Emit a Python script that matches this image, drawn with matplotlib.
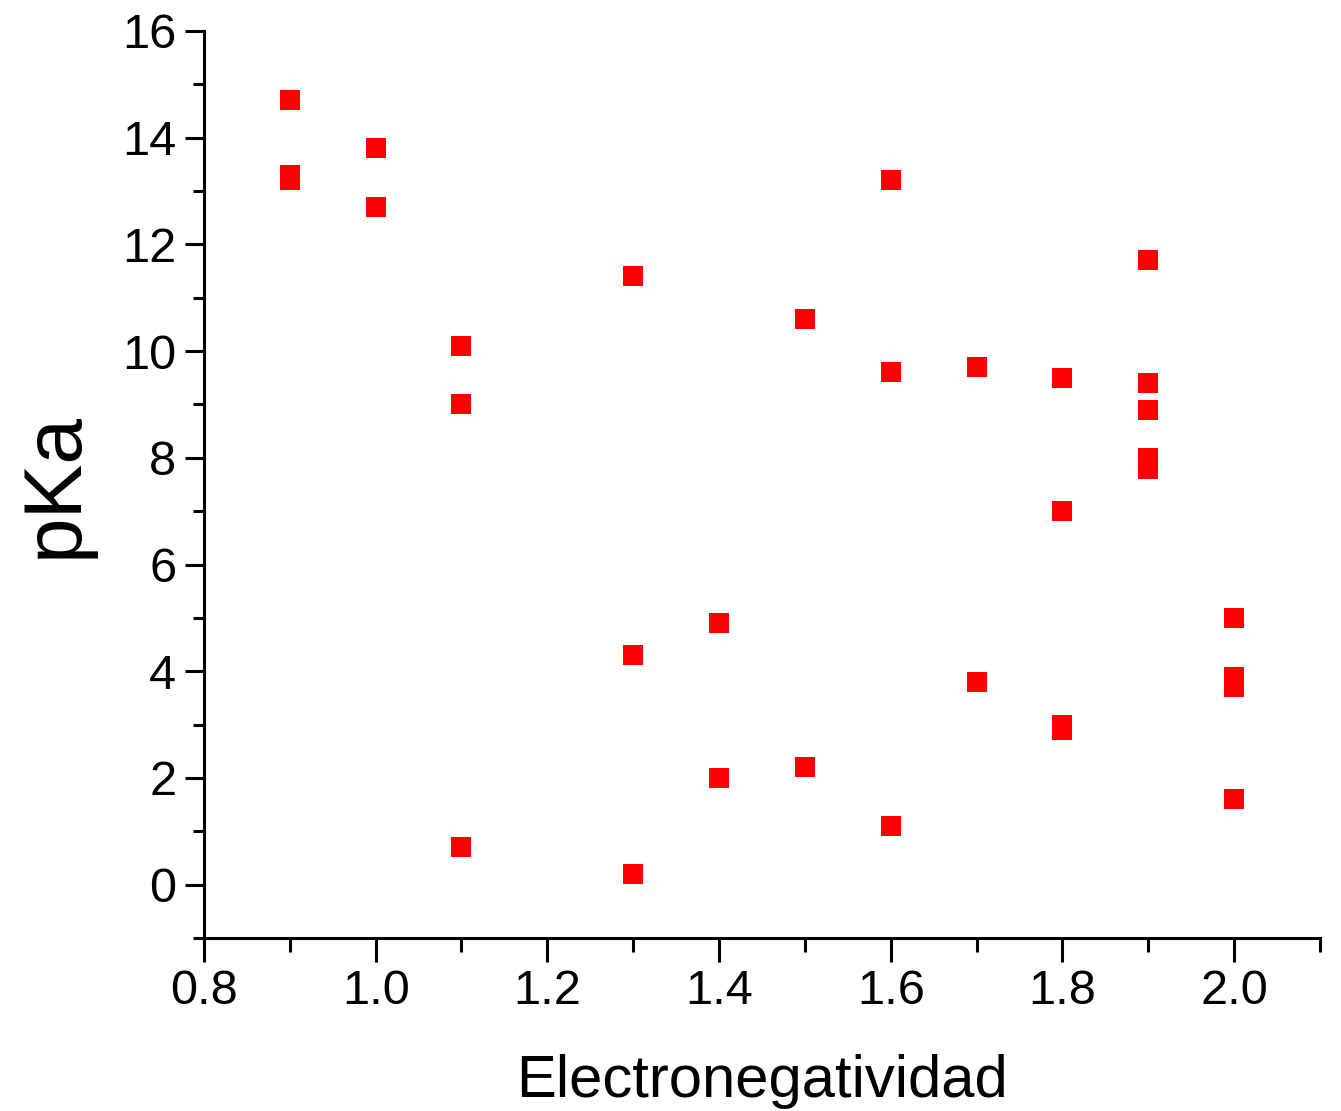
import matplotlib
matplotlib.use("Agg")
import matplotlib.pyplot as plt
from matplotlib.ticker import MultipleLocator

plt.rcParams['font.family'] = ['Liberation Sans', 'DejaVu Sans']

# data
electroneg = [0.9, 0.9, 0.9,
              1.0, 1.0,
              1.1, 1.1, 1.1,
              1.3, 1.3, 1.3,
              1.4, 1.4,
              1.5, 1.5,
              1.6, 1.6, 1.6,
              1.7, 1.7,
              1.8, 1.8, 1.8, 1.8,
              1.9, 1.9, 1.9, 1.9, 1.9,
              2.0, 2.0, 2.0, 2.0]
pka = [14.7, 13.3, 13.2,
       13.8, 12.7,
       10.1, 9.0, 0.7,
       11.4, 4.3, 0.2,
       4.9, 2.0,
       10.6, 2.2,
       13.2, 9.6, 1.1,
       9.7, 3.8,
       9.5, 7.0, 3.0, 2.9,
       11.7, 9.4, 8.9, 8.0, 7.8,
       5.0, 3.9, 3.7, 1.6]

fig = plt.figure(figsize=(13.41, 11.11), dpi=100)
ax = fig.add_axes([0.1521, 0.1557, 0.8322, 0.8164])

ax.scatter(electroneg, pka, marker='s', s=190, color='#ff0000', linewidths=0)

ax.set_xlim(0.8, 2.1)
ax.set_ylim(-1, 16)
ax.xaxis.set_major_locator(MultipleLocator(0.2))
ax.xaxis.set_minor_locator(MultipleLocator(0.1))
ax.yaxis.set_major_locator(MultipleLocator(2))
ax.yaxis.set_minor_locator(MultipleLocator(1))
ax.xaxis.set_major_formatter(plt.FuncFormatter(lambda v, p: f"{v:.1f}"))

for s in ['top', 'right']:
    ax.spines[s].set_visible(False)
for s in ['left', 'bottom']:
    ax.spines[s].set_linewidth(2.2)

ax.tick_params(which='major', direction='out', length=14, width=2.2, labelsize=35)
ax.tick_params(which='minor', direction='out', length=8, width=2.2)
ax.tick_params(axis='x', which='major', length=17, pad=5)
ax.tick_params(axis='x', which='minor', length=10)
ax.tick_params(axis='y', which='major', pad=6)

ax.set_xlabel('Electronegatividad', fontsize=43, labelpad=29)
ax.set_ylabel('pKa', fontsize=59, labelpad=20)

fig.savefig('out.png', dpi=100)
